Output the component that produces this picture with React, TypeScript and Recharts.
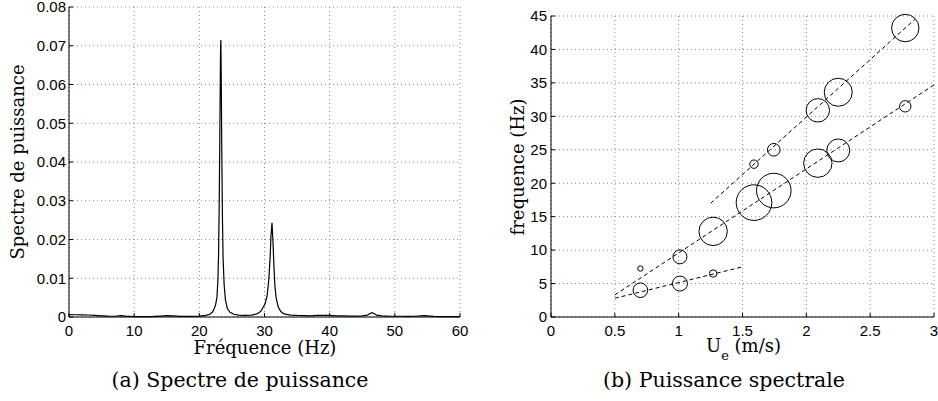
import React from 'react';
import { LineChart, Line, XAxis, YAxis, CartesianGrid, ScatterChart, Scatter, ZAxis } from 'recharts';

// ---- (a) Spectre de puissance ----
const freqHz = [
  0, 1, 2, 3, 4, 5, 6, 7, 8, 8.7, 10, 11, 12, 13, 14, 15, 16, 17, 18, 19, 20, 21, 21.6,
  22.0, 22.3, 22.5, 22.7, 22.85, 22.95, 23.05, 23.15, 23.25, 23.3, 23.35, 23.45, 23.55, 23.65, 23.8,
  24.0, 24.3, 24.7, 25.3, 26, 27, 28, 28.8, 29.4, 29.8, 30.1, 30.4, 30.65, 30.85, 31.0, 31.15,
  31.3, 31.45, 31.6, 31.8, 32.1, 32.5, 33.0, 34, 35, 36, 37, 38, 39, 40, 41, 42, 43, 44, 45,
  45.8, 46.2, 46.5, 46.8, 47.2, 48, 49, 50, 51, 52, 53, 54, 54.5, 55, 56, 57, 58, 59, 60,
];
const spectre = [
  0.0006, 0.00058, 0.00055, 0.00052, 0.0004, 0.0003, 0.00022, 0.0002, 0.00035, 0.00022, 0.00012, 0.0001, 0.00012, 0.00015, 0.00025, 0.00038, 0.00028, 0.00018, 0.00015, 0.00018, 0.00025, 0.0004, 0.0007,
  0.0012, 0.0022, 0.0032, 0.005, 0.0095, 0.016, 0.029, 0.048, 0.068, 0.0715, 0.064, 0.042, 0.025, 0.015, 0.0085,
  0.0045, 0.0022, 0.0012, 0.0007, 0.0005, 0.0004, 0.0005, 0.0008, 0.0014, 0.0025, 0.0035, 0.0055, 0.0095, 0.015, 0.021, 0.0243,
  0.0195, 0.013, 0.008, 0.0048, 0.0026, 0.0014, 0.0008, 0.0005, 0.0004, 0.00035, 0.0003, 0.0004, 0.00045, 0.0004, 0.0003, 0.00028, 0.00025, 0.00025, 0.0003,
  0.0005, 0.0009, 0.0011, 0.0009, 0.0005, 0.0003, 0.00022, 0.0002, 0.0002, 0.00018, 0.0002, 0.0003, 0.00035, 0.0003, 0.00018, 0.00012, 0.0001, 0.0001, 0.0001,
];
const spectreTicksX = [0, 10, 20, 30, 40, 50, 60];
const spectreTicksY = [0, 0.01, 0.02, 0.03, 0.04, 0.05, 0.06, 0.07, 0.08];

// ---- (b) Puissance spectrale ----
const vitesse = [0.7, 0.7, 1.01, 1.01, 1.27, 1.27, 1.59, 1.59, 1.745, 1.745, 2.09, 2.09, 2.25, 2.25, 2.775, 2.775];
const frequence = [4.0, 7.25, 5.0, 9.0, 6.5, 12.8, 22.85, 17.1, 25.0, 18.9, 30.9, 23.0, 33.6, 24.9, 43.2, 31.5];
const puissance = [5.3, 0.73, 5.6, 4.9, 1.37, 20.2, 1.76, 31.7, 4.0, 29.9, 13.7, 20.2, 19.6, 13.2, 18.8, 3.25];

const fit1U = [0.5, 3.0];
const fit1F = [3.3, 34.7];
const fit2U = [1.25, 2.85];
const fit2F = [17.0, 44.5];
const fit3U = [0.5, 1.49];
const fit3F = [2.8, 7.45];

const puissTicksX = [0, 0.5, 1, 1.5, 2, 2.5, 3];
const puissTicksY = [0, 5, 10, 15, 20, 25, 30, 35, 40, 45];

const spectreData = freqHz.map((f, i) => ({ f, p: spectre[i] }));
const bubbleData = vitesse.map((u, i) => ({ u, f: frequence[i], z: puissance[i] }));
const mk = (us: number[], fs: number[]) => us.map((u, i) => ({ u, f: fs[i] }));
const fit1 = mk(fit1U, fit1F);
const fit2 = mk(fit2U, fit2F);
const fit3 = mk(fit3U, fit3F);

const SANS = '"Liberation Sans", Arial, Helvetica, sans-serif';
const SERIF = '"DejaVu Serif", serif';
const tickStyle = { fill: '#000', fontSize: 15, fontFamily: SANS };
const gridProps = { stroke: '#8a8a8a', strokeDasharray: '1 3', strokeWidth: 1 };
const axisLine = { stroke: '#000', strokeWidth: 1 };
const noLabel = () => '';

const Empty = () => <g />;

export default function App() {
  return (
    <div style={{ position: 'absolute', left: 0, top: 0, width: 938, height: 401, background: '#fff', overflow: 'hidden' }}>
      <div style={{ position: 'absolute', left: 0, top: 0 }}>
        <LineChart width={470} height={401} data={spectreData} margin={{ top: 7, right: 10, bottom: 54, left: 0 }}>
          <CartesianGrid {...gridProps} />
          <XAxis dataKey="f" type="number" domain={[0, 60]} ticks={spectreTicksX} interval={0}
            height={30} tick={tickStyle} tickSize={-4} tickMargin={12} axisLine={axisLine} tickLine={{ stroke: '#000' }} />
          <XAxis xAxisId="top" orientation="top" dataKey="f" type="number" domain={[0, 60]} ticks={spectreTicksX} interval={0}
            height={0} tick={tickStyle} tickFormatter={noLabel} tickSize={-4} axisLine={axisLine} tickLine={{ stroke: '#000' }} />
          <YAxis type="number" domain={[0, 0.08]} ticks={spectreTicksY} interval={0} width={69}
            tick={tickStyle} tickSize={-4} tickMargin={7} axisLine={axisLine} tickLine={{ stroke: '#000' }} />
          <YAxis yAxisId="right" orientation="right" type="number" domain={[0, 0.08]} ticks={spectreTicksY} interval={0} width={0}
            tick={tickStyle} tickFormatter={noLabel} tickSize={-4} axisLine={axisLine} tickLine={{ stroke: '#000' }} />
          <Line type="linear" dataKey="p" stroke="#000" strokeWidth={1.2} dot={false} isAnimationActive={false} />
        </LineChart>
      </div>
      <div style={{ position: 'absolute', left: 470, top: 0 }}>
        <ScatterChart width={468} height={401} margin={{ top: 16, right: 4, bottom: 54, left: 0 }}>
          <CartesianGrid {...gridProps} />
          <XAxis dataKey="u" type="number" domain={[0, 3]} ticks={puissTicksX} interval={0}
            height={30} tick={tickStyle} tickSize={-4} tickMargin={12} axisLine={axisLine} tickLine={{ stroke: '#000' }} />
          <XAxis xAxisId="top" orientation="top" dataKey="u" type="number" domain={[0, 3]} ticks={puissTicksX} interval={0}
            height={0} tick={tickStyle} tickFormatter={noLabel} tickSize={-4} axisLine={axisLine} tickLine={{ stroke: '#000' }} />
          <YAxis dataKey="f" type="number" domain={[0, 45]} ticks={puissTicksY} interval={0} width={81}
            tick={tickStyle} tickSize={-4} tickMargin={8} axisLine={axisLine} tickLine={{ stroke: '#000' }} />
          <YAxis yAxisId="right" orientation="right" dataKey="f" type="number" domain={[0, 45]} ticks={puissTicksY} interval={0} width={0}
            tick={tickStyle} tickFormatter={noLabel} tickSize={-4} axisLine={axisLine} tickLine={{ stroke: '#000' }} />
          <ZAxis dataKey="z" type="number" domain={[0, 40]} range={[0, 1256.6]} />
          <Scatter data={fit1} line={{ stroke: '#000', strokeWidth: 1, strokeDasharray: '4 3' }} shape={Empty} fill="none" isAnimationActive={false} />
          <Scatter data={fit2} line={{ stroke: '#000', strokeWidth: 1, strokeDasharray: '4 3' }} shape={Empty} fill="none" isAnimationActive={false} />
          <Scatter data={fit3} line={{ stroke: '#000', strokeWidth: 1, strokeDasharray: '4 3' }} shape={Empty} fill="none" isAnimationActive={false} />
          <Scatter data={bubbleData} shape="circle" fill="none" stroke="#000" strokeWidth={1} isAnimationActive={false} />
        </ScatterChart>
      </div>
      <svg width={938} height={401} style={{ position: 'absolute', left: 0, top: 0, pointerEvents: 'none' }}>
        <text x={24} y={162} transform="rotate(-90 24 162)" textAnchor="middle" fontFamily={SERIF} fontSize={18} fill="#000">Spectre de puissance</text>
        <text x={265} y={354} textAnchor="middle" fontFamily={SERIF} fontSize={18} fill="#000">Fréquence (Hz)</text>
        <text x={240} y={387} textAnchor="middle" fontFamily={SERIF} fontSize={20.5} fill="#000">(a) Spectre de puissance</text>
        <text x={524} y={167} transform="rotate(-90 524 167)" textAnchor="middle" fontFamily={SERIF} fontSize={18} fill="#000">frequence (Hz)</text>
        <text x={706} y={352} fontFamily={SERIF} fontSize={18} fill="#000">U<tspan dy={8} fontSize={13}>e</tspan><tspan dy={-8}> (m/s)</tspan></text>
        <text x={724} y={387} textAnchor="middle" fontFamily={SERIF} fontSize={20.5} fill="#000">(b) Puissance spectrale</text>
      </svg>
    </div>
  );
}
